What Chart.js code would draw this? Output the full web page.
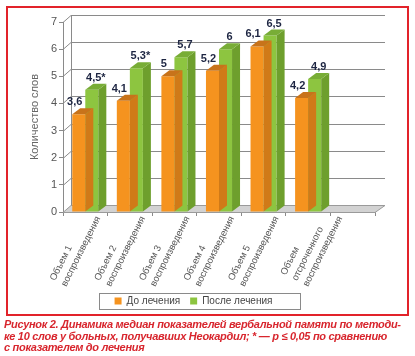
<!DOCTYPE html>
<html><head><meta charset="utf-8">
<script src="https://cdn.jsdelivr.net/npm/chart.js@4"></script>
<style>
html,body{margin:0;padding:0;background:#fff;width:415px;height:356px;overflow:hidden;font-family:'Liberation Sans',Arial,sans-serif}
#chart{position:absolute;left:0;top:0}
#frame{position:absolute;left:6px;top:6px;width:403px;height:310px;border:2px solid #e2232a;box-sizing:border-box;pointer-events:none}
#caption{position:absolute;left:4px;top:319px;color:#d8262e;font:italic bold 11px/11.5px 'Liberation Sans',Arial,sans-serif;letter-spacing:-0.3px;white-space:nowrap}
#caption div{display:block}
</style></head>
<body>
<canvas id="chart" width="415" height="318"></canvas>
<div id="frame"></div>
<div id="caption">
<div>Рисунок 2. Динамика медиан показателей вербальной памяти по методи-</div>
<div>ке 10 слов у больных, получавших Неокардил; * — p ≤ 0,05 по сравнению</div>
<div>с показателем до лечения</div>
</div>
<script>
const categories = [
  ["Объем 1","воспроизведения"],
  ["Объем 2","воспроизведения"],
  ["Объем 3","воспроизведения"],
  ["Объем 4","воспроизведения"],
  ["Объем 5","воспроизведения"],
  ["Объем","отсроченного","воспроизведения"],
  ""
];
const seriesNames = ["До лечения","После лечения"];
const beforeValues = [3.6, 4.1, 5, 5.2, 6.1, 4.2, null];
const afterValues  = [4.5, 5.3, 5.7, 6, 6.5, 4.9, null];
const significant  = [[false,false,false,false,false,false,false],[true,true,false,false,false,false,false]];
const yTicks = [0,1,2,3,4,5,6,7];
const yTitle = "Количество слов";

const DX = 8, DY = -7;      // wall depth
const BDX = 8, BDY = -6;    // bar depth
const faceColors = [
  {front:'#f5931f', top:'#c8731a', side:'#d07a18'},
  {front:'#8dc540', top:'#78ad36', side:'#6e9f2d'}
];

Chart.defaults.font.family = "'Liberation Sans', Arial, sans-serif";

const wallPlugin = {
  id:'wall',
  beforeDatasetsDraw(chart){
    const {ctx, chartArea:{left,right,top,bottom}, scales:{y}} = chart;
    ctx.save();
    ctx.lineWidth = 1;
    ctx.fillStyle = '#d2d2d2'; ctx.strokeStyle = '#9a9a9a';
    ctx.beginPath();
    ctx.moveTo(left, bottom+0.5); ctx.lineTo(right, bottom+0.5);
    ctx.lineTo(right+DX+2, bottom+DY+0.5); ctx.lineTo(left+DX, bottom+DY+0.5);
    ctx.closePath(); ctx.fill(); ctx.stroke();
    ctx.strokeStyle = '#8a8a8a';
    yTicks.forEach(v => {
      if (v === 0) return;
      const py = Math.round(y.getPixelForValue(v)) + 0.5;
      ctx.beginPath();
      ctx.moveTo(left, py); ctx.lineTo(left+DX, py+DY); ctx.lineTo(right+DX+2, py+DY);
      ctx.stroke();
    });
    ctx.beginPath();
    ctx.moveTo(left+DX+0.5, Math.round(y.getPixelForValue(yTicks[yTicks.length-1]))+DY);
    ctx.lineTo(left+DX+0.5, bottom+DY);
    ctx.stroke();
    ctx.restore();
  }
};

const barFacesPlugin = {
  id:'barFaces',
  afterDatasetDraw(chart, args){
    const {ctx} = chart;
    const c = faceColors[args.index];
    const values = chart.data.datasets[args.index].data;
    ctx.save();
    args.meta.data.forEach((bar, j) => {
      if (values[j] == null) return;
      const {x, y, base, width} = bar.getProps(['x','y','base','width'], true);
      const x1 = x - width/2, x2 = x + width/2;
      ctx.fillStyle = c.side;
      ctx.beginPath();
      ctx.moveTo(x2, y); ctx.lineTo(x2+BDX, y+BDY); ctx.lineTo(x2+BDX, base+BDY); ctx.lineTo(x2, base);
      ctx.closePath(); ctx.fill();
      ctx.fillStyle = c.top;
      ctx.beginPath();
      ctx.moveTo(x1, y); ctx.lineTo(x2, y); ctx.lineTo(x2+BDX, y+BDY); ctx.lineTo(x1+BDX, y+BDY);
      ctx.closePath(); ctx.fill();
    });
    ctx.restore();
  }
};

const valueLabelPlugin = {
  id:'valueLabels',
  afterDatasetsDraw(chart){
    const {ctx} = chart;
    ctx.save();
    ctx.font = "bold 11px 'Liberation Sans', Arial, sans-serif";
    ctx.fillStyle = '#1d2542';
    ctx.textAlign = 'center'; ctx.textBaseline = 'middle';
    chart.data.datasets.forEach((ds, i) => {
      chart.getDatasetMeta(i).data.forEach((bar, j) => {
        const v = ds.data[j];
        if (v == null) return;
        const txt = String(v).replace('.', ',') + (significant[i][j] ? '*' : '');
        ctx.fillText(txt, bar.x + (i === 0 ? -4 : 4), bar.y - 12);
      });
    });
    ctx.restore();
  }
};

const xLabelPlugin = {
  id:'xLabels',
  afterDraw(chart){
    const {ctx, scales:{x}} = chart;
    ctx.save();
    ctx.font = "9.5px 'Liberation Sans', Arial, sans-serif";
    ctx.fillStyle = '#555';
    ctx.textAlign = 'left'; ctx.textBaseline = 'middle';
    const ang = -63.4 * Math.PI / 180;
    categories.forEach((lab, i) => {
      const lines = Array.isArray(lab) ? lab : (lab ? [lab] : []);
      if (!lines.length) return;
      const n = lines.length;
      const cx = x.getPixelForValue(i);
      const W = Math.max(...lines.map(t => ctx.measureText(t).width));
      ctx.save();
      ctx.translate(cx + 13 + (n-2)*19, 217);
      ctx.rotate(ang);
      lines.forEach((t, k) => ctx.fillText(t, -W, (k-(n-1))*12.5));
      ctx.restore();
    });
    ctx.restore();
  }
};

const legendBoxPlugin = {
  id:'legendBox',
  afterDraw(chart){
    const hb = chart.legend && chart.legend.legendHitBoxes;
    if (!hb || !hb.length) return;
    const {ctx} = chart;
    const l = Math.min(...hb.map(h => h.left)) - 16;
    const r = Math.max(...hb.map(h => h.left + h.width)) + 27;
    const cy = hb[0].top + hb[0].height/2;
    ctx.save();
    ctx.strokeStyle = '#8a8a8a'; ctx.lineWidth = 1;
    ctx.strokeRect(Math.round(l)+0.5, Math.round(cy-8)+0.5, Math.round(r-l), 16);
    ctx.restore();
  }
};

new Chart(document.getElementById('chart'), {
  type:'bar',
  data:{
    labels: categories,
    datasets:[
      {label: seriesNames[0], data: beforeValues, backgroundColor: faceColors[0].front, borderWidth:0, barPercentage:1, categoryPercentage:0.585},
      {label: seriesNames[1], data: afterValues, backgroundColor: faceColors[1].front, borderWidth:0, barPercentage:1, categoryPercentage:0.585}
    ]
  },
  options:{
    responsive:false, animation:false, devicePixelRatio:1,
    layout:{padding:{left:12, right:40, top:22, bottom:2}},
    plugins:{
      legend:{position:'bottom', labels:{boxWidth:7, boxHeight:7, padding:10, color:'#444', font:{size:10}}},
      tooltip:{enabled:false}
    },
    scales:{
      x:{
        ticks:{display:false},
        grid:{drawOnChartArea:false, drawTicks:true, tickLength:4, color:'#8a8a8a', offset:true},
        border:{display:true, color:'#9a9a9a'},
        afterFit(s){ s.height = Math.max(0, s.chart.height - 2 - (s.chart.legend ? s.chart.legend.height : 30) - 212); }
      },
      y:{
        min:0, max:7,
        afterBuildTicks(s){ s.ticks = yTicks.map(v => ({value:v})); },
        ticks:{color:'#555', font:{size:11}, padding:2},
        grid:{drawOnChartArea:false, drawTicks:true, tickLength:4, color:'#8a8a8a'},
        border:{display:true, color:'#8a8a8a'},
        title:{display:true, text:yTitle, color:'#666', font:{size:11}, padding:{top:16, bottom:0}},
        afterFit(s){ s.width = 51; }
      }
    }
  },
  plugins:[wallPlugin, barFacesPlugin, valueLabelPlugin, xLabelPlugin, legendBoxPlugin]
});
</script>
</body></html>
